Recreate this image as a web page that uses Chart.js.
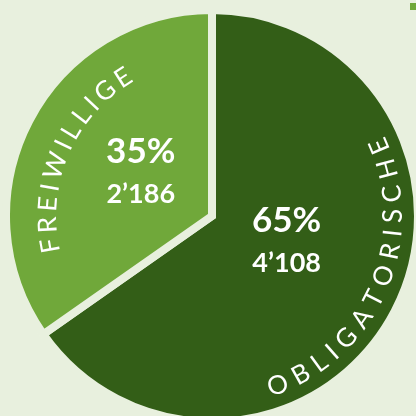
<!DOCTYPE html>
<html>
<head>
<meta charset="utf-8">
<script src="https://cdn.jsdelivr.net/npm/chart.js@4.4.1/dist/chart.umd.min.js"></script>
<style>
  html, body { margin: 0; padding: 0; background: #e8f0de; }
  #wrap { position: relative; width: 416px; height: 416px; overflow: hidden; }
  #legendBit { position: absolute; left: 410px; top: 3px; width: 7px; height: 7px; background: #70a83a; }
</style>
</head>
<body>
<div id="wrap">
  <canvas id="pieChart" width="416" height="416"></canvas>
  <div id="legendBit"></div>
</div>
<script>
// data
const categories = ["OBLIGATORISCHE", "FREIWILLIGE"];
const counts = [4108, 2186];
const sliceColors = ["#335e17", "#70a83a"];

const total = counts.reduce((a, b) => a + b, 0);
const percentLabels = counts.map(v => Math.round(v / total * 100) + "%");
const countLabels = counts.map(v => {
  let s = String(v);
  return s.length > 3 ? s.slice(0, -3) + "\u2019" + s.slice(-3) : s;
});

const bg = "#e8f0de";

// draws a word letter by letter along a circle
function arcText(ctx, text, cx, cy, r, midAngle, topsOut, spacing) {
  let widths = [];
  let w = 0;
  for (let ch of text) {
    let cw = ctx.measureText(ch).width;
    widths.push(cw);
    w += cw;
  }
  w += spacing * (text.length - 1);
  let capH = ctx.measureText("H").actualBoundingBoxAscent;
  let base = topsOut ? r - capH / 2 : r + capH / 2;
  let dir = topsOut ? 1 : -1;
  let start = midAngle - dir * (w / 2) / r;
  let pos = 0;
  for (let i = 0; i < text.length; i++) {
    let a = start + dir * (pos + widths[i] / 2) / r;
    ctx.save();
    ctx.translate(cx + base * Math.cos(a), cy + base * Math.sin(a));
    ctx.rotate(a + dir * Math.PI / 2);
    ctx.fillText(text[i], 0, 0);
    ctx.restore();
    pos += widths[i] + spacing;
  }
}

const labelPlugin = {
  id: "sliceLabels",
  afterDatasetsDraw(chart) {
    const ctx = chart.ctx;
    const arcs = chart.getDatasetMeta(0).data;
    const deg = Math.PI / 180;
    // angle shift (deg) for the number block, per slice
    const numShift = [-10, 5];
    const numDist = [0.38, 0.41];
    arcs.forEach((arc, i) => {
      const mid = (arc.startAngle + arc.endAngle) / 2;
      const R = arc.outerRadius;
      ctx.save();
      ctx.fillStyle = "#ffffff";
      ctx.textAlign = "center";
      ctx.textBaseline = "middle";

      // curved category name
      ctx.font = "400 26px Lato";
      const topsOut = i === 1;
      const rr = topsOut ? R - 36 : R - 30;
      arcText(ctx, categories[i], arc.x, arc.y, rr, mid - 4 * deg, topsOut, 6);

      // percent and count
      ctx.textBaseline = "alphabetic";
      const a = mid + numShift[i] * deg;
      const px = arc.x + Math.cos(a) * R * numDist[i];
      const py = arc.y + Math.sin(a) * R * numDist[i];
      ctx.font = "700 35px Lato";
      ctx.fillText(percentLabels[i], px, py - 8);
      ctx.font = "700 27px Lato";
      ctx.fillText(countLabels[i], px, py + 32);
      ctx.restore();
    });
  }
};

const data = {
  labels: categories,
  datasets: [{
    data: counts,
    backgroundColor: sliceColors,
    borderColor: bg,
    borderWidth: 8,
    borderJoinStyle: "miter",
    clip: false
  }]
};

const config = {
  type: "pie",
  data: data,
  options: {
    responsive: false,
    animation: false,
    radius: 206,
    layout: { padding: { left: 8, top: 16, right: 0, bottom: 0 } },
    plugins: {
      legend: { display: false },
      tooltip: { enabled: false }
    }
  },
  plugins: [labelPlugin]
};

window.myChart = new Chart(document.getElementById("pieChart"), config);
</script>
</body>
</html>
